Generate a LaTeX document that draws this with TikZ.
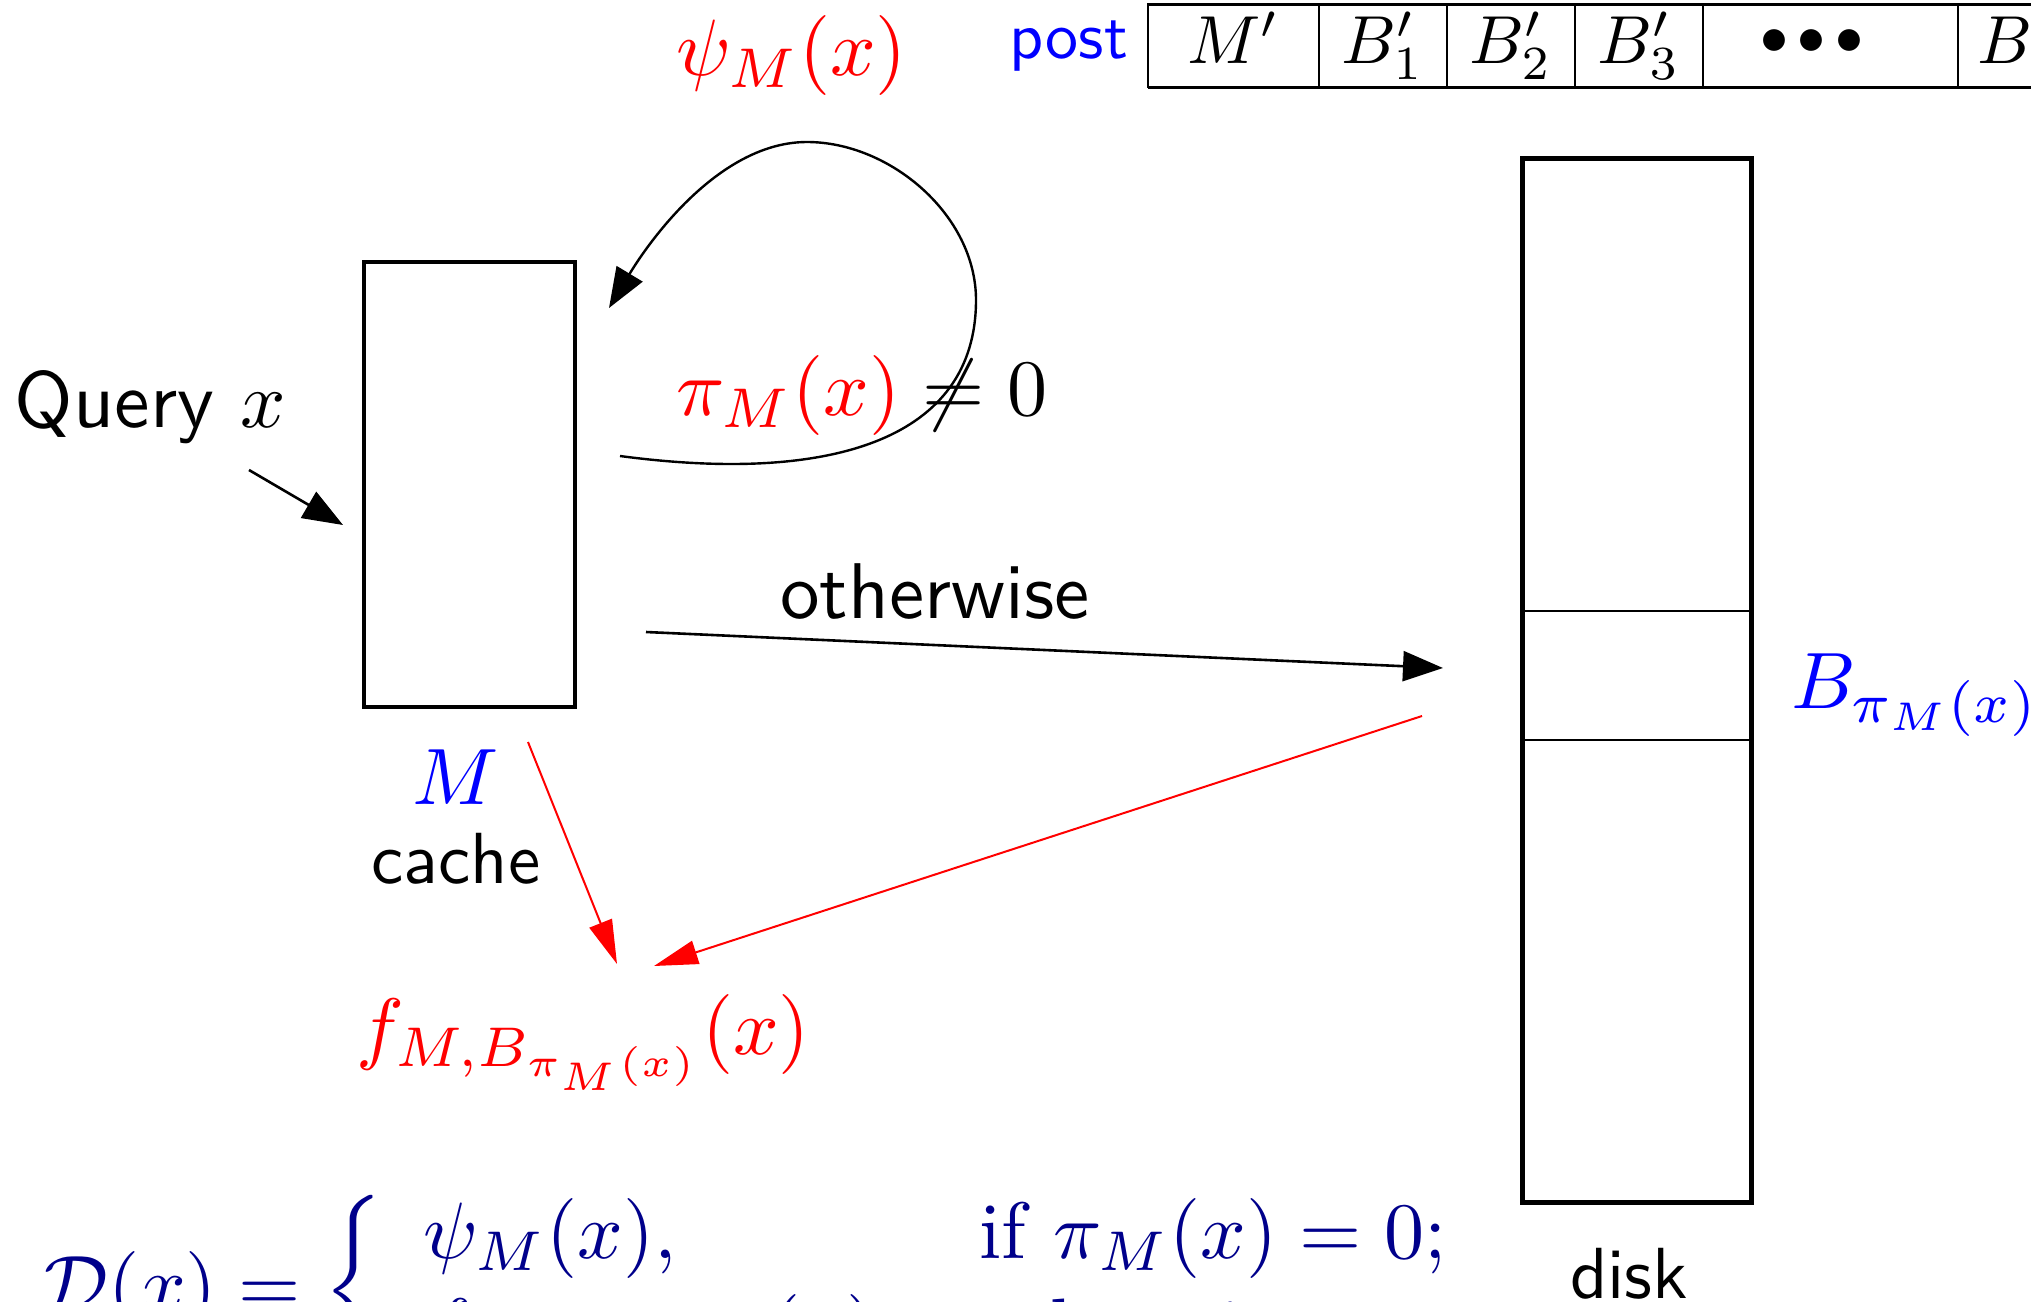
\RequirePackage{fix-cm}
\documentclass[tikz,border=0pt]{standalone}
\usepackage{amsmath}
\usetikzlibrary{arrows.meta}
\definecolor{navy}{RGB}{0,0,139}
\begin{document}
\begin{tikzpicture}[x=0.5pt,y=-0.5pt,
  blk/.style={-{Triangle[length=20pt,width=15pt]}, line width=1.3pt},
  redarr/.style={-{Triangle[length=22pt,width=12pt]}, line width=1pt, red},
  mth/.style={inner sep=0pt, outer sep=0pt, scale=4.0},
  sflab/.style={inner sep=0pt, outer sep=0pt, font=\sffamily},
  tbl/.style={inner sep=0pt, outer sep=0pt, scale=3.4, anchor=base},
  cellbox/.style={draw, line width=1pt, minimum height=41.5pt, inner sep=0pt, outer sep=0pt},
  storebox/.style={draw, inner sep=0pt, outer sep=0pt},
]
\useasboundingbox (0,0) rectangle (2031,1302);

% post table
\node[sflab, scale=3.3, blue, anchor=base east] (post) at (1128,58) {post};
\node[cellbox, minimum width=85.5pt] (c0) at (1233.5,45.5) {};
\node[cellbox, minimum width=64pt] (c1) at (1383,45.5) {};
\node[cellbox, minimum width=64pt] (c2) at (1511,45.5) {};
\node[cellbox, minimum width=64pt] (c3) at (1639,45.5) {};
\node[cellbox, minimum width=127.5pt] (c4) at (1830.5,45.5) {};
\node[cellbox, minimum width=100pt] (c5) at (2058,45.5) {};
\draw[line width=1.5pt] (c0.north west) -- (c5.north east);
\draw[line width=1.5pt] (c0.south west) -- (c5.south east);
\coordinate (tb) at (0,63);
\node[tbl] (t0) at (c0.center |- tb) {$M'$};
\node[tbl] (t1) at (c1.center |- tb) {$B'_1$};
\node[tbl] (t2) at (c2.center |- tb) {$B'_2$};
\node[tbl] (t3) at (c3.center |- tb) {$B'_3$};
\node[inner sep=0pt, scale=2.8] (t4) at (1812,42) {${\bullet}\mkern3mu{\bullet}\mkern3mu{\bullet}$};
\node[tbl, anchor=base west] (t5) at (1977,63) {$B$};

% cache
\node[storebox, line width=2.2pt, minimum width=105.5pt, minimum height=222.5pt] (cache) at (469.5,484.5) {};
\node[mth, blue, anchor=base] (Mlab) at (456,804) {$M$};
\node[sflab, scale=3.62, anchor=base] (cachelab) at (456,883) {cache};

% disk
\node[storebox, line width=2.5pt, minimum width=114.5pt, minimum height=522pt] (disk) at (1636.5,680) {};
\coordinate (b1) at (0,611);
\coordinate (b2) at (0,740);
\draw[line width=1.2pt] (disk.west |- b1) -- (disk.east |- b1);
\draw[line width=1.2pt] (disk.west |- b2) -- (disk.east |- b2);
\node[mth, blue, anchor=base west] (Blab) at (1791,708) {$B_{\pi_M(x)}$};
\node[sflab, scale=3.62, anchor=base] (disklab) at (1629,1298) {disk};

% query
\node[sflab, scale=3.98, anchor=base west] (query) at (15,427) {Query $x$};
\coordinate (qs) at (249,470);
\coordinate (qe) at (343,525);
\draw[blk] (qs) -- (qe);

% self loop
\node[mth, red, anchor=base west] (psi) at (676,75) {$\psi_M(x)$};
\node[mth, anchor=base west] (cond) at (676,415) {$\textcolor{red}{\pi_M(x)} \neq 0$};
\coordinate (ls) at (620,456);
\coordinate (le) at (609,308);
\draw[blk, line width=1.2pt] (ls) .. controls (830,484) and (976,440) .. (976,300)
   .. controls (976,215) and (890,142) .. (807,142)
   .. controls (720,142) and (650,240) .. (le);

% otherwise
\node[sflab, scale=3.95, anchor=base] (oth) at (935,618) {otherwise};
\coordinate (os) at (646,632);
\coordinate (oe) at (1443,668);
\draw[blk] (os) -- (oe);

% red arrows
\coordinate (r1s) at (528,742);
\coordinate (r1e) at (617,964);
\coordinate (r2s) at (1422,716);
\coordinate (r2e) at (654,966);
\draw[redarr] (r1s) -- (r1e);
\draw[redarr] (r2s) -- (r2e);
\node[mth, red, anchor=base west] (f) at (356,1054) {$f_{M,B_{\pi_M(x)}}(x)$};

% formula
\node[mth, text=navy, anchor=base west] (D) at (45,1311)
  {$\mathcal{D}(x) = \left\{\begin{array}{ll} \psi_M(x), & \mbox{if } \pi_M(x)=0;\\ f_{M,B_{\pi_M(x)}}(x), & \mbox{otherwise.}\end{array}\right.$};
\end{tikzpicture}
\end{document}
